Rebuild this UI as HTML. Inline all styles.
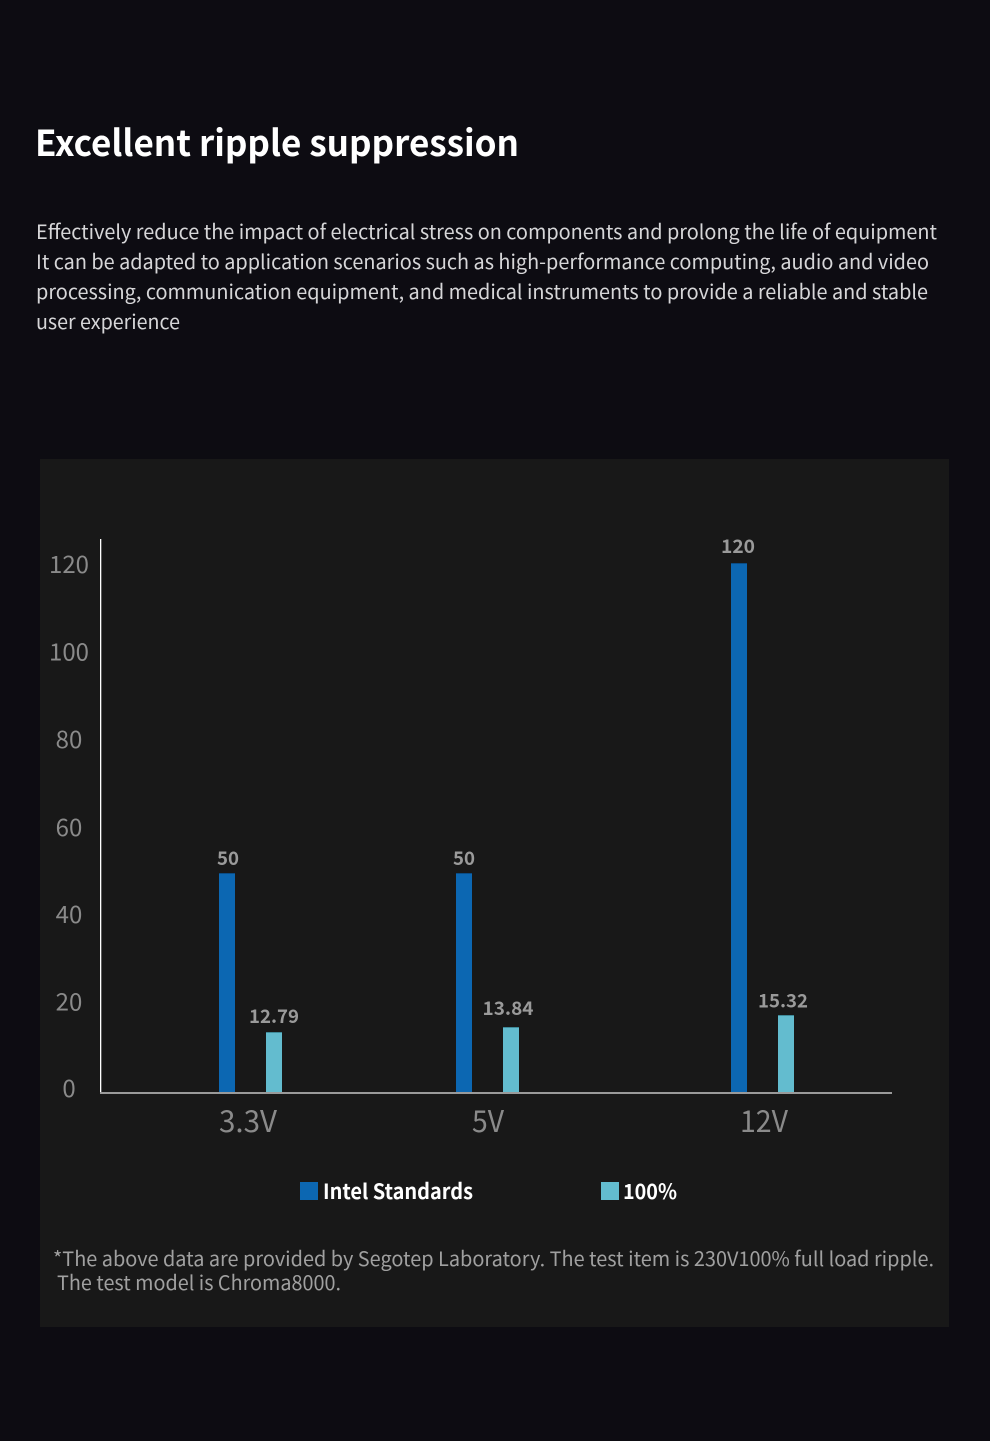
<!DOCTYPE html>
<html>
<head>
<meta charset="utf-8">
<style>
  html,body{margin:0;padding:0;background:#0d0c12;}
  body{width:990px;height:1441px;overflow:hidden;}
  svg{display:block;}
  text{font-family:"Noto Sans CJK SC","Liberation Sans",sans-serif;}
</style>
</head>
<body>
<svg width="990" height="1441" viewBox="0 0 990 1441" xmlns="http://www.w3.org/2000/svg">
  <rect x="0" y="0" width="990" height="1441" fill="#0d0c12"/>

  <!-- Title -->
  <text x="35" y="156" font-size="36" font-weight="700" fill="#ffffff" textLength="484" lengthAdjust="spacingAndGlyphs">Excellent ripple suppression</text>

  <!-- Paragraph -->
  <g font-size="20" fill="#d6d6d8">
    <text x="36" y="239" textLength="901" lengthAdjust="spacingAndGlyphs">Effectively reduce the impact of electrical stress on components and prolong the life of equipment</text>
    <text x="36" y="269" textLength="893" lengthAdjust="spacingAndGlyphs">It can be adapted to application scenarios such as high-performance computing, audio and video</text>
    <text x="36" y="299" textLength="892" lengthAdjust="spacingAndGlyphs">processing, communication equipment, and medical instruments to provide a reliable and stable</text>
    <text x="36" y="329" textLength="144" lengthAdjust="spacingAndGlyphs">user experience</text>
  </g>

  <!-- Panel -->
  <rect x="40" y="459" width="909" height="868" fill="#181818"/>

  <!-- Y tick labels -->
  <g font-size="24" fill="#8a8a8a" text-anchor="middle">
    <text x="69" y="573">120</text>
    <text x="69" y="660.5">100</text>
    <text x="69" y="748">80</text>
    <text x="69" y="836">60</text>
    <text x="69" y="923">40</text>
    <text x="69" y="1010.5">20</text>
    <text x="69" y="1097">0</text>
  </g>

  <!-- Axes -->
  <rect x="100" y="539" width="1.3" height="554" fill="#ffffff"/>

  <!-- Bars -->
  <g>
    <rect x="219" y="873" width="16" height="220" fill="#0c67b2"/>
    <rect x="219" y="873" width="16" height="1" fill="#0a4c85"/>
    <rect x="266" y="1032" width="16" height="61" fill="#63bccf"/>
    <rect x="266" y="1032" width="16" height="1" fill="#3f8a99"/>

    <rect x="456" y="873" width="16" height="220" fill="#0c67b2"/>
    <rect x="456" y="873" width="16" height="1" fill="#0a4c85"/>
    <rect x="503" y="1027" width="16" height="66" fill="#63bccf"/>
    <rect x="503" y="1027" width="16" height="1" fill="#3f8a99"/>

    <rect x="731" y="563" width="16" height="530" fill="#0c67b2"/>
    <rect x="731" y="563" width="16" height="1" fill="#0a4c85"/>
    <rect x="778" y="1015" width="16" height="78" fill="#63bccf"/>
    <rect x="778" y="1015" width="16" height="1" fill="#3f8a99"/>
  </g>

  <rect x="100" y="1092" width="792" height="2" fill="#9a9a9a"/>

  <!-- Value labels -->
  <g font-size="19" font-weight="700" fill="#9a9a9a" text-anchor="middle">
    <text x="228" y="865" textLength="22" lengthAdjust="spacingAndGlyphs">50</text>
    <text x="274" y="1023" textLength="50" lengthAdjust="spacingAndGlyphs">12.79</text>
    <text x="464" y="865" textLength="22" lengthAdjust="spacingAndGlyphs">50</text>
    <text x="508" y="1015" textLength="51" lengthAdjust="spacingAndGlyphs">13.84</text>
    <text x="738" y="553" textLength="34" lengthAdjust="spacingAndGlyphs">120</text>
    <text x="783" y="1007.5" textLength="50" lengthAdjust="spacingAndGlyphs">15.32</text>
  </g>

  <!-- X labels -->
  <g font-size="30" fill="#8a8a8a">
    <text x="219" y="1132" textLength="58" lengthAdjust="spacingAndGlyphs">3.3V</text>
    <text x="472" y="1132" textLength="32" lengthAdjust="spacingAndGlyphs">5V</text>
    <text x="740" y="1132" textLength="48" lengthAdjust="spacingAndGlyphs">12V</text>
  </g>

  <!-- Legend -->
  <rect x="300" y="1182" width="18" height="18" fill="#0c67b2"/>
  <text x="323" y="1199" font-size="21" font-weight="700" fill="#ffffff" textLength="150" lengthAdjust="spacingAndGlyphs">Intel Standards</text>
  <rect x="601" y="1182" width="18" height="18" fill="#63bccf"/>
  <text x="623" y="1199" font-size="21" font-weight="700" fill="#ffffff" textLength="54" lengthAdjust="spacingAndGlyphs">100%</text>

  <!-- Footnote -->
  <g font-size="20" fill="#a0a0a0">
    <text x="53" y="1266" textLength="881" lengthAdjust="spacingAndGlyphs">*The above data are provided by Segotep Laboratory. The test item is 230V100% full load ripple.</text>
    <text x="57" y="1290" textLength="284" lengthAdjust="spacingAndGlyphs">The test model is Chroma8000.</text>
  </g>
</svg>
</body>
</html>
